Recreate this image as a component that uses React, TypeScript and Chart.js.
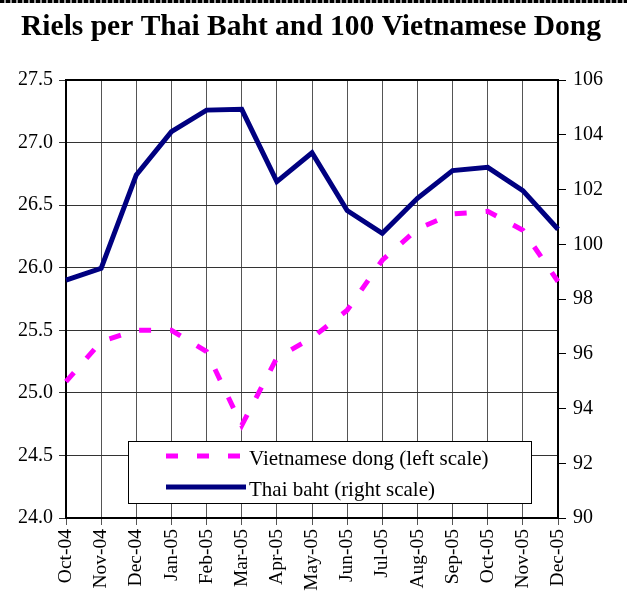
import React, { useEffect, useRef } from 'react';
import { Chart, registerables } from 'chart.js';

Chart.register(...registerables);

const titleText = 'Riels per Thai Baht and 100 Vietnamese Dong';
const months = ['Oct-04', 'Nov-04', 'Dec-04', 'Jan-05', 'Feb-05', 'Mar-05', 'Apr-05', 'May-05', 'Jun-05', 'Jul-05', 'Aug-05', 'Sep-05', 'Oct-05', 'Nov-05', 'Dec-05'];
const dongValues = [25.09, 25.41, 25.5, 25.5, 25.33, 24.74, 25.28, 25.44, 25.66, 26.06, 26.31, 26.43, 26.45, 26.3, 25.89];
const bahtValues = [98.69, 99.12, 102.53, 104.11, 104.9, 104.93, 102.29, 103.34, 101.23, 100.4, 101.68, 102.69, 102.81, 101.96, 100.55];
const dongLabel = 'Vietnamese dong (left scale)';
const bahtLabel = 'Thai baht (right scale)';
const leftRange = { min: 24, max: 27.5, step: 0.5 };
const rightRange = { min: 90, max: 106, step: 2 };

const FONT = "'Liberation Serif', 'Times New Roman', serif";

const decorPlugin = {
  id: 'decor',
  afterDraw(chart: any) {
    const ctx = chart.ctx;
    const area = chart.chartArea;
    ctx.save();
    // dotted top rule
    for (let x = 0; x < chart.width; x += 6) {
      ctx.fillStyle = '#000';
      ctx.fillRect(x, 0, 4, 3);
      ctx.fillStyle = '#999';
      ctx.fillRect(x + 4, 0, 2, 3);
    }
    // title
    ctx.fillStyle = '#000';
    ctx.font = `bold 29.5px ${FONT}`;
    ctx.textAlign = 'center';
    ctx.textBaseline = 'alphabetic';
    ctx.fillText(titleText, 311, 35);
    // top border of plot
    ctx.strokeStyle = '#000';
    ctx.lineWidth = 2;
    ctx.beginPath();
    ctx.moveTo(area.left - 1, area.top);
    ctx.lineTo(area.right + 1, area.top);
    ctx.stroke();
    // legend
    const bx = 128.5, by = 441.5, bw = 403, bh = 62;
    ctx.fillStyle = '#fff';
    ctx.fillRect(bx, by, bw, bh);
    ctx.strokeStyle = '#000';
    ctx.lineWidth = 1;
    ctx.strokeRect(bx, by, bw, bh);
    const ds = chart.data.datasets;
    const rows = [456, 487];
    ctx.font = `21px ${FONT}`;
    ctx.textAlign = 'left';
    ctx.textBaseline = 'alphabetic';
    ds.forEach((d: any, i: number) => {
      const y = rows[i];
      ctx.strokeStyle = d.borderColor;
      ctx.lineWidth = d.borderWidth;
      ctx.setLineDash(d.borderDash || []);
      ctx.lineCap = 'butt';
      ctx.beginPath();
      ctx.moveTo(166, y);
      ctx.lineTo(246, y);
      ctx.stroke();
      ctx.setLineDash([]);
      ctx.fillStyle = '#000';
      ctx.fillText(d.label, 249, y + 9);
    });
    ctx.restore();
  },
};

export default function App() {
  const ref = useRef<HTMLCanvasElement | null>(null);
  useEffect(() => {
    if (!ref.current) return;
    const chart = new Chart(ref.current, {
      type: 'line',
      data: {
        labels: months,
        datasets: [
          {
            label: dongLabel,
            data: dongValues,
            yAxisID: 'yL',
            borderColor: '#ff00ff',
            borderWidth: 5,
            borderDash: [12, 19],
            borderCapStyle: 'butt',
            pointRadius: 0,
            tension: 0,
            fill: false,
          },
          {
            label: bahtLabel,
            data: bahtValues,
            yAxisID: 'yR',
            borderColor: '#000080',
            borderWidth: 5,
            borderJoinStyle: 'miter',
            pointRadius: 0,
            tension: 0,
            fill: false,
          },
        ],
      },
      options: {
        responsive: false,
        animation: false,
        layout: { padding: { top: 80, left: 0, right: 0, bottom: 0 } },
        plugins: { legend: { display: false }, title: { display: false }, tooltip: { enabled: false } },
        scales: {
          x: {
            offset: false,
            grid: { color: '#555', lineWidth: 1, tickLength: 7, drawTicks: true },
            border: { display: true, color: '#000', width: 2 },
            ticks: {
              font: { family: FONT, size: 19.5 },
              color: '#000',
              minRotation: 90,
              maxRotation: 90,
              autoSkip: false,
              padding: 4,
            },
            afterFit(scale: any) {
              scale.height = 76;
            },
          },
          yL: {
            position: 'left',
            min: leftRange.min,
            max: leftRange.max,
            grid: { color: '#333', lineWidth: 1, tickLength: 7 },
            border: { display: true, color: '#000', width: 2 },
            ticks: {
              stepSize: leftRange.step,
              font: { family: FONT, size: 20 },
              color: '#000',
              padding: 6,
              callback: (v: any) => Number(v).toFixed(1),
            },
            afterFit(scale: any) {
              scale.width = 66;
            },
          },
          yR: {
            position: 'right',
            min: rightRange.min,
            max: rightRange.max,
            grid: { drawOnChartArea: false, color: '#000', tickLength: 8 },
            border: { display: true, color: '#000', width: 2 },
            ticks: {
              stepSize: rightRange.step,
              font: { family: FONT, size: 20 },
              color: '#000',
              padding: 7,
            },
            afterFit(scale: any) {
              scale.width = 69;
            },
          },
        },
      },
      plugins: [decorPlugin],
    } as any);
    return () => chart.destroy();
  }, []);
  return (
    <div style={{ position: 'absolute', left: 0, top: 0, width: 627, height: 594, background: '#fff' }}>
      <canvas ref={ref} width={627} height={594} style={{ display: 'block' }} />
    </div>
  );
}
